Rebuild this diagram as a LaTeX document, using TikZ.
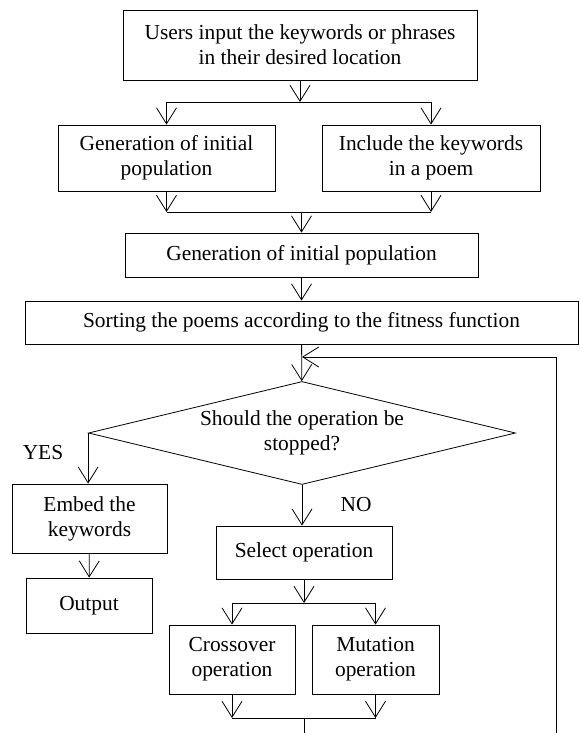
\documentclass[tikz,border=0pt]{standalone}
\usepackage{fontspec}
\setmainfont{Liberation Serif}
\usetikzlibrary{arrows.meta, shapes.geometric}

\begin{document}
\begin{tikzpicture}[
      x=1pt, y=1pt,
      box/.style={rectangle, draw, line width=0.8pt, align=center, inner sep=0pt,
        font=\fontsize{21.4}{25}\selectfont},
      decision/.style={diamond, draw, line width=0.8pt, align=center, inner sep=0pt,
        shape aspect=4.15, minimum width=427pt, minimum height=103pt,
        font=\fontsize{21.4}{25}\selectfont},
      label/.style={font=\fontsize{21.4}{25}\selectfont},
      flow/.style={-{Straight Barb[length=16pt, width=20pt]}, line width=0.8pt},
      link/.style={line width=0.8pt}
    ]
    \useasboundingbox (0,0) rectangle (579,733);
    \node[box, minimum width=354pt, minimum height=70pt] (users) at (300,688)
      {Users input the keywords or phrases\\in their desired location};
    \node[box, minimum width=217pt, minimum height=66pt] (genA) at (166.5,575)
      {Generation of initial\\population};
    \node[box, minimum width=218pt, minimum height=66pt] (incl) at (431,575)
      {Include the keywords\\in a poem};
    \node[box, minimum width=353pt, minimum height=44pt] (genB) at (301.5,478)
      {Generation of initial population};
    \node[box, minimum width=553pt, minimum height=43pt] (sort) at (301.5,410.5)
      {Sorting the poems according to the fitness function};
    \node[decision] (stop) at (302,300) {Should the operation be\\stopped?};
    \node[box, minimum width=155pt, minimum height=69pt] (embed) at (89.5,214.5)
      {Embed the\\keywords};
    \node[box, minimum width=126pt, minimum height=55pt] (output) at (89,127.5) {Output};
    \node[box, minimum width=176pt, minimum height=53pt] (select) at (304,180.5)
      {Select operation};
    \node[box, minimum width=126pt, minimum height=69pt] (cross) at (232,73.5)
      {Crossover\\operation};
    \node[box, minimum width=127pt, minimum height=69pt] (mut) at (375.5,73.5)
      {Mutation\\operation};
    \node[label] (yes) at (43,280) {YES};
    \node[label] (no) at (356,228) {NO};
    \coordinate (split1) at (300,631);
    \coordinate (merge1) at (301.5,521);
    \coordinate (split2) at (304,130);
    \coordinate (merge2) at (304,15);
    \coordinate (back) at (556,376);
    \coordinate (bottom) at (556,0);
    \draw[flow] (users) -- (split1);
    \draw[link] (genA.north |- split1) -- (incl.north |- split1);
    \draw[flow] (genA.north |- split1) -- (genA);
    \draw[flow] (incl.north |- split1) -- (incl);
    \draw[flow] (genA) -- (genA.south |- merge1);
    \draw[flow] (incl) -- (incl.south |- merge1);
    \draw[link] (genA.south |- merge1) -- (incl.south |- merge1);
    \draw[flow] (merge1) -- (genB);
    \draw[flow] (genB) -- (sort);
    \draw[flow] (sort) -- (stop);
    \draw[flow] (bottom) -- (back) -- (back -| stop.north);
    \draw[flow] (stop.west) -- (stop.west |- embed.north);
    \draw[flow] (embed) -- (output);
    \draw[flow] (stop.south) -- (stop.south |- select.north);
    \draw[flow] (select) -- (split2);
    \draw[link] (cross.north |- split2) -- (mut.north |- split2);
    \draw[flow] (cross.north |- split2) -- (cross);
    \draw[flow] (mut.north |- split2) -- (mut);
    \draw[flow] (cross) -- (cross.south |- merge2);
    \draw[flow] (mut) -- (mut.south |- merge2);
    \draw[link] (cross.south |- merge2) -- (mut.south |- merge2);
    \draw[link] (merge2) -- (merge2 |- bottom);
\end{tikzpicture}
\end{document}
